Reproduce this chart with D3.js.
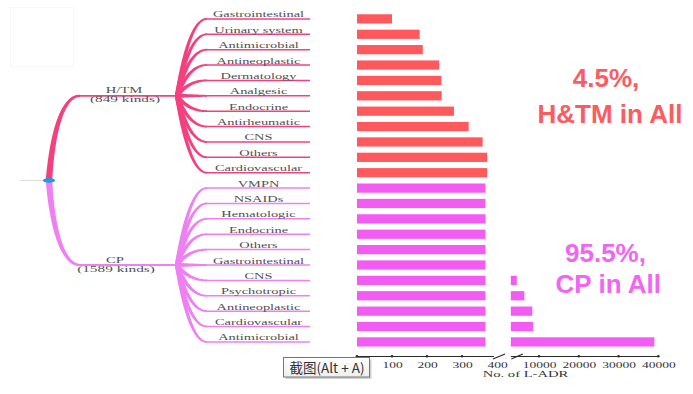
<!DOCTYPE html>
<html>
<head>
<meta charset="utf-8">
<script src="https://cdn.jsdelivr.net/npm/d3@7"></script>
<style>
  body { margin: 0; background: #fff; }
  svg { display: block; }
</style>
</head>
<body>
<svg width="693" height="394"></svg>
<script>
// H/TM and CP categories, top to bottom
const htmCategories = ["Gastrointestinal", "Urinary system", "Antimicrobial", "Antineoplastic", "Dermatology",
  "Analgesic", "Endocrine", "Antirheumatic", "CNS", "Others", "Cardiovascular"];
const htmValues = [100, 179, 188, 235, 241, 242, 277, 319, 359, 372, 372];

const cpCategories = ["VMPN", "NSAIDs", "Hematologic", "Endocrine", "Others", "Gastrointestinal",
  "CNS", "Psychotropic", "Antineoplastic", "Cardiovascular", "Antimicrobial"];
const cpValues = [1200, 1500, 1700, 1900, 2300, 2700, 4400, 6300, 8300, 8500, 39000];

const leftTicks = [100, 200, 300, 400];
const rightTicks = [10000, 20000, 30000, 40000];
const groupNames = ["H/TM", "CP"];
const groupKinds = ["(849 kinds)", "(1589 kinds)"];
const shareValues = ["4.5%,", "95.5%,"];
const shareLabels = ["H&TM in All", "CP in All"];
const axisTitle = "No. of L-ADR";

const svg = d3.select("svg");
const serif = "'Liberation Serif', 'Times New Roman', serif";
const axisY = 356.5;

const rows = htmCategories.map((c, i) => ({ g: 0, name: c, value: htmValues[i] }))
  .concat(cpCategories.map((c, i) => ({ g: 1, name: c, value: cpValues[i] })));

const y = d3.scaleBand().domain(d3.range(rows.length)).range([11.2, 349.6]).paddingInner(0.4).paddingOuter(0.2);
const xLeft = d3.scaleLinear().domain([0, 400]).range([357, 497]);
const xRight = d3.scaleLinear().domain([0, 40000]).range([499.3, 658.3]);
const leftCap = 367;      // bars larger than the left panel stop at the break
const rightStart = 2900;  // first value shown after the break

const barColor = ["#ff585d", "#f25cf3"];
const treeColor = ["#f5407f", "#ee80f3"];
const textColor = ["#fd5b60", "#f066f0"];

const mid = (i) => y(i) + y.bandwidth() / 2;

// faint frame at top left
svg.append("rect").attr("x", 10.5).attr("y", 7.5).attr("width", 63).attr("height", 59)
  .attr("fill", "none").attr("stroke", "#f8f8f8");

// tapered bezier ribbon
function taper(p0, p1, p2, p3, w0, w1) {
  const n = 30;
  const pts = d3.range(n + 1).map((k) => {
    const t = k / n, mt = 1 - t;
    return [
      mt * mt * mt * p0[0] + 3 * mt * mt * t * p1[0] + 3 * mt * t * t * p2[0] + t * t * t * p3[0],
      mt * mt * mt * p0[1] + 3 * mt * mt * t * p1[1] + 3 * mt * t * t * p2[1] + t * t * t * p3[1]
    ];
  });
  const a = [], b = [];
  pts.forEach((p, k) => {
    const q0 = pts[Math.max(0, k - 1)], q1 = pts[Math.min(n, k + 1)];
    let dx = q1[0] - q0[0], dy = q1[1] - q0[1];
    const len = Math.hypot(dx, dy) || 1;
    const w = (w0 + (w1 - w0) * k / n) / 2;
    a.push([p[0] - dy / len * w, p[1] + dx / len * w]);
    b.push([p[0] + dy / len * w, p[1] - dx / len * w]);
  });
  return d3.line()(a.concat(b.reverse())) + "Z";
}

// mind-map tree
const tree = svg.append("g");
const hubY = [mid(5), mid(16)];
const rootX = 49, rootY = (hubY[0] + hubY[1]) / 2;
const hubX = 177, leafX0 = 205, leafX1 = 310;
const groupLabelX = [124, 115];

tree.append("line").attr("x1", 20).attr("x2", 44).attr("y1", rootY).attr("y2", rootY)
  .attr("stroke", "#dcdcdc").attr("stroke-width", 1);

[0, 1].forEach((g) => {
  const hy = hubY[g];
  tree.append("path")
    .attr("d", taper([rootX, rootY], [52, rootY + (hy - rootY) * 0.54], [62, hy], [80, hy], 6.5, 2.2))
    .attr("fill", treeColor[g]);
  tree.append("line").attr("x1", 79).attr("x2", hubX + 2).attr("y1", hy).attr("y2", hy)
    .attr("stroke", treeColor[g]).attr("stroke-width", 1.8);

  rows.forEach((r, i) => {
    if (r.g !== g) return;
    const ly = mid(i);
    const c = [189, ly];
    const p0 = [hubX, hy], p3 = [leafX0 + 2, ly];
    tree.append("path")
      .attr("d", taper(p0,
        [p0[0] + (c[0] - p0[0]) * 2 / 3, p0[1] + (c[1] - p0[1]) * 2 / 3],
        [p3[0] + (c[0] - p3[0]) * 2 / 3, p3[1] + (c[1] - p3[1]) * 2 / 3],
        p3, 4.4, 1.7))
      .attr("fill", treeColor[g]);
    tree.append("line").attr("x1", leafX0).attr("x2", leafX1).attr("y1", ly).attr("y2", ly)
      .attr("stroke", treeColor[g]).attr("stroke-width", 1.5);
    tree.append("text")
      .attr("transform", `translate(${(leafX0 + leafX1) / 2 + 1},${ly - 1.5}) scale(1.6,1)`)
      .attr("text-anchor", "middle")
      .attr("font-family", serif).attr("font-size", 9).attr("fill", "#505050")
      .text(r.name);
  });

  tree.append("text")
    .attr("transform", `translate(${groupLabelX[g]},${hy - 2.5}) scale(1.63,1)`)
    .attr("text-anchor", "middle").attr("font-family", serif).attr("font-size", 9).attr("fill", "#505050")
    .text(groupNames[g]);
  tree.append("text")
    .attr("transform", `translate(${groupLabelX[g] + 1},${hy + 6.5}) scale(1.7,1)`)
    .attr("text-anchor", "middle").attr("font-family", serif).attr("font-size", 9).attr("fill", "#505050")
    .text(groupKinds[g]);
});

tree.append("ellipse").attr("cx", rootX).attr("cy", rootY).attr("rx", 6).attr("ry", 2.3).attr("fill", "#1c9be6");

// bars, left panel
svg.append("g").selectAll("rect")
  .data(rows)
  .join("rect")
  .attr("x", xLeft(0))
  .attr("y", (d, i) => y(i))
  .attr("width", (d) => xLeft(d.value > 400 ? leftCap : d.value) - xLeft(0))
  .attr("height", y.bandwidth())
  .attr("fill", (d) => barColor[d.g]);

// bars, right panel
svg.append("g").selectAll("rect")
  .data(rows.map((d, i) => ({ ...d, i })).filter((d) => d.value > rightStart))
  .join("rect")
  .attr("x", xRight(rightStart))
  .attr("y", (d) => y(d.i))
  .attr("width", (d) => xRight(d.value) - xRight(rightStart))
  .attr("height", y.bandwidth())
  .attr("fill", (d) => barColor[d.g]);

// broken axis
const axisColor = "#2a2a2a";
function drawAxis(scale, ticks, x0, x1) {
  const g = svg.append("g").attr("transform", `translate(0,${axisY})`)
    .call(d3.axisBottom(scale).tickValues(ticks).tickSize(0).tickPadding(6.5).tickFormat(d3.format("d")));
  g.select(".domain").remove();
  g.selectAll("text")
    .attr("font-family", serif).attr("font-size", 7.5).attr("fill", "#333")
    .attr("transform", "scale(1.8,1)");
  g.append("line").attr("x1", x0).attr("x2", x1).attr("stroke", axisColor).attr("stroke-width", 1);
  return g;
}
const gl = drawAxis(xLeft, leftTicks, xLeft(0), xLeft(400) - 3);
gl.selectAll(".dot").data([0].concat(leftTicks.slice(0, -1))).join("circle")
  .attr("cx", (d) => xLeft(d)).attr("cy", -0.3).attr("r", 1.3).attr("fill", axisColor);
gl.append("line").attr("x1", xLeft(400) - 4).attr("x2", xLeft(400) + 8).attr("y1", 2.5).attr("y2", -2.5)
  .attr("stroke", axisColor).attr("stroke-width", 1.2);

const gr = drawAxis(xRight, rightTicks, xRight(rightStart), xRight(40000));
gr.selectAll(".dot").data(rightTicks).join("circle")
  .attr("cx", (d) => xRight(d)).attr("cy", -0.3).attr("r", 1.3).attr("fill", axisColor);
gr.append("line").attr("x1", xRight(rightStart) + 0.5).attr("x2", xRight(rightStart) + 12).attr("y1", 2.5).attr("y2", -2.5)
  .attr("stroke", axisColor).attr("stroke-width", 1.2);

svg.append("text")
  .attr("transform", `translate(525.5,376.5) scale(1.83,1)`)
  .attr("text-anchor", "middle").attr("font-family", serif).attr("font-size", 8).attr("fill", "#333")
  .text(axisTitle);

// share annotations
const shareY = [[87, 123.3], [261.7, 293.3]];
const shareX = [[606, 610], [605.5, 608.3]];
[0, 1].forEach((g) => {
  [shareValues[g], shareLabels[g]].forEach((t, k) => {
    svg.append("text")
      .attr("x", shareX[g][k]).attr("y", shareY[g][k])
      .attr("text-anchor", "middle")
      .attr("font-family", "'Liberation Sans', Arial, sans-serif")
      .attr("font-weight", "bold").attr("font-size", 26)
      .attr("fill", textColor[g])
      .text(t);
  });
});

// screenshot tooltip
const tip = svg.append("g").attr("transform", "translate(283.5,357.5)");
const grad = svg.append("defs").append("linearGradient").attr("id", "tipbg").attr("x1", 0).attr("x2", 0).attr("y1", 0).attr("y2", 1);
grad.append("stop").attr("offset", 0).attr("stop-color", "#ffffff");
grad.append("stop").attr("offset", 1).attr("stop-color", "#eeeeee");
tip.append("rect").attr("x", 2).attr("y", 2).attr("width", 86).attr("height", 19.5).attr("fill", "rgba(0,0,0,0.18)");
tip.append("rect").attr("width", 86).attr("height", 19.5).attr("fill", "url(#tipbg)").attr("stroke", "#767676");
tip.append("text").attr("x", 6).attr("y", 15)
  .attr("font-family", "'Noto Sans CJK SC', 'Noto Sans', sans-serif").attr("font-size", 13.5).attr("fill", "#333")
  .text("截图(Alt + A)");
</script>
</body>
</html>
